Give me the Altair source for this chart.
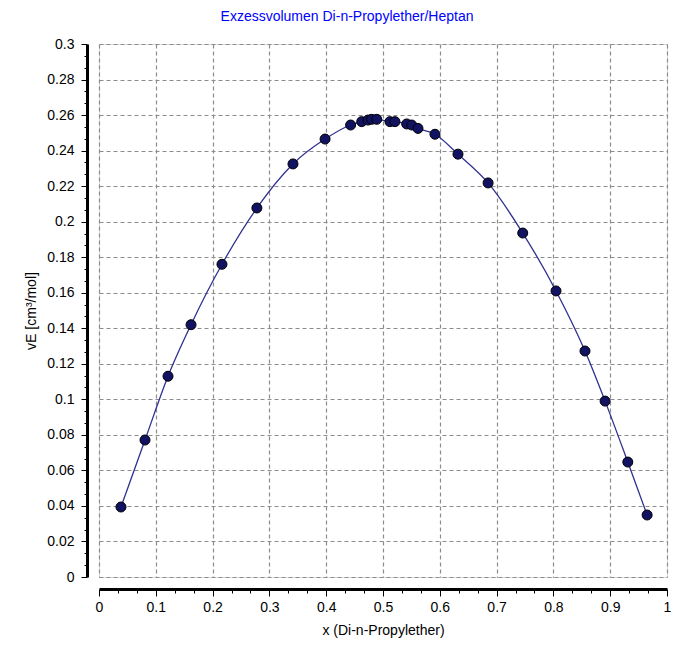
import altair as alt
import pandas as pd

x_vals = [0.0387, 0.081, 0.1215, 0.162, 0.2165, 0.278, 0.3415, 0.398, 0.443, 0.4625,
          0.4736, 0.480, 0.489, 0.5123, 0.521, 0.5417, 0.5505, 0.5616, 0.5915, 0.632,
          0.685, 0.746, 0.8046, 0.8556, 0.891, 0.931, 0.965]
ve_vals = [0.0394, 0.0771, 0.113, 0.142, 0.176, 0.2077, 0.2325, 0.2465, 0.2544, 0.2563,
           0.2572, 0.2576, 0.2576, 0.2563, 0.2563, 0.2550, 0.2544, 0.2525, 0.2492, 0.238,
           0.2218, 0.1936, 0.161, 0.1272, 0.099, 0.0647, 0.0349]

y_ticks = [round(i * 0.02 / 3, 5) for i in range(0, 46)]
x_ticks = [round(i * 0.1 / 3, 5) for i in range(0, 31)]

df = pd.DataFrame({"x": x_vals, "vE": ve_vals})

FONT = "Liberation Sans"
ymajor = "abs(datum.value*50 - round(datum.value*50)) < 0.001"
xmajor = "abs(datum.value*10 - round(datum.value*10)) < 0.001"

xenc = alt.X("x:Q", scale=alt.Scale(domain=[0, 1], nice=False, zero=False),
             axis=alt.Axis(title="x (Di-n-Propylether)", values=x_ticks, tickCount=200,
                           labelExpr=f"{xmajor} ? toString(round(datum.value*10)/10) : ''",
                           offset=12, domainWidth=3, domainColor="black",
                           tickColor="black",
                           tickSize={"condition": {"test": xmajor, "value": 7}, "value": 4},
                           gridOpacity={"condition": {"test": xmajor, "value": 1}, "value": 0},
                           gridColor="#8c8c8c", gridDash=[4, 3], gridWidth=1.2,
                           labelOverlap=False, labelFlush=False, labelPadding=4,
                           labelFont=FONT, labelFontSize=14, labelColor="black",
                           titleFont=FONT, titleFontSize=14, titleFontWeight="normal",
                           titleColor="black", titlePadding=9))
yenc = alt.Y("vE:Q", scale=alt.Scale(domain=[0, 0.3], nice=False, zero=False),
             axis=alt.Axis(title="vE [cm³/mol]", values=y_ticks, tickCount=200,
                           labelExpr=f"{ymajor} ? toString(round(datum.value*100)/100) : ''",
                           offset=12, domainWidth=3, domainColor="black",
                           tickColor="black",
                           tickSize={"condition": {"test": ymajor, "value": 6}, "value": 3},
                           gridOpacity={"condition": {"test": ymajor, "value": 1}, "value": 0},
                           gridColor="#8c8c8c", gridDash=[4, 3], gridWidth=1.2,
                           labelOverlap=False, labelFlush=False, labelPadding=7,
                           labelFont=FONT, labelFontSize=14, labelColor="black",
                           titleFont=FONT, titleFontSize=14, titleFontWeight="normal",
                           titleColor="black", titlePadding=8))

line = alt.Chart(df).mark_line(color="#303090", strokeWidth=1.3, interpolate="monotone").encode(
    x=xenc, y=yenc)
pts = alt.Chart(df).mark_point(filled=True, fill="#121262", stroke="black", strokeWidth=1,
                               size=100, opacity=1, shape="circle").encode(x="x:Q", y="vE:Q")

chart = alt.layer(line, pts).properties(
    width=568, height=533,
    autosize=alt.AutoSizeParams(type="none"),
    padding={"left": 91, "top": 36, "right": 10, "bottom": 70},
    title=alt.TitleParams("Exzessvolumen Di-n-Propylether/Heptan", color="#0000ff",
                          font=FONT, fontSize=14, fontWeight="normal",
                          anchor="middle", dx=-36, offset=13),
).configure_view(stroke="black", strokeWidth=1.5).configure(background="white")

chart.save("out.html", embed_options={"renderer": "svg", "actions": False})
